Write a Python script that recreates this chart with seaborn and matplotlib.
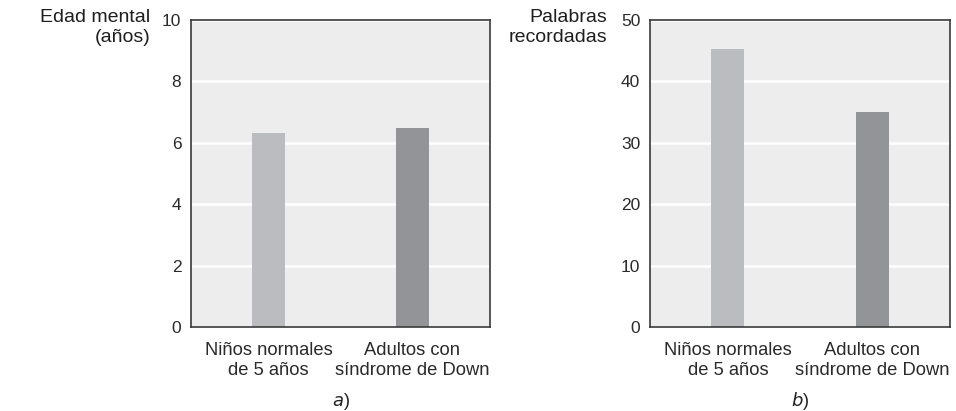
import matplotlib
matplotlib.use('Agg')
import pandas as pd
import seaborn as sns
from matplotlib import pyplot as plt

categories = ['Niños normales\nde 5 años', 'Adultos con\nsíndrome de Down']
mental_age = [6.32, 6.48]
words_recalled = [45.3, 35.0]
bar_colors = ['#bbbcc0', '#939497']

sns.set_style('whitegrid')
plt.rcParams['font.family'] = ['Liberation Sans', 'DejaVu Sans']

fig = plt.figure(figsize=(9.56, 4.11), dpi=100)
W, H = 956, 411


def panel(left, right, values, ymax, step, ylabel, tag, label_x):
    ax = fig.add_axes([left / W, 1 - 327 / H, (right - left) / W, (327 - 20) / H])
    df = pd.DataFrame({'group': categories, 'value': values})
    sns.barplot(data=df, x='group', y='value', hue='group', palette=bar_colors,
                width=0.23, legend=False, ax=ax, saturation=1, linewidth=0)
    ax.set_facecolor('#ededed')
    ax.set_xlim(-0.54, 1.54)
    ax.set_ylim(0, ymax)
    ax.set_yticks(range(0, ymax + 1, step))
    ax.grid(axis='y', color='white', linewidth=1.8)
    ax.grid(axis='x', visible=False)
    ax.set_axisbelow(True)
    for s in ax.spines.values():
        s.set_color('#3a3a3a')
        s.set_linewidth(1.2)
    ax.tick_params(axis='both', length=0, colors='#2a2a2a')
    ax.tick_params(axis='y', pad=7, labelsize=12.5)
    ax.tick_params(axis='x', pad=11, labelsize=13.2)
    for t in ax.get_xticklabels():
        t.set_linespacing(1.22)
    ax.set_xlabel('')
    ax.set_ylabel('')
    fig.text(label_x / W, 1 - 9 / H, ylabel, ha='right', va='top', fontsize=14,
             color='#1e1e1e', linespacing=1.2)
    fig.text((left + right) / 2 / W, 1 - 401 / H, tag, ha='center', va='center',
             fontsize=13, color='#222222')
    return ax


panel(191, 490, mental_age, 10, 2, 'Edad mental\n(años)', r'$\it{a}$)', 150)
panel(650, 950, words_recalled, 50, 10, 'Palabras\nrecordadas', r'$\it{b}$)', 607)

fig.savefig('out.png', dpi=100)
